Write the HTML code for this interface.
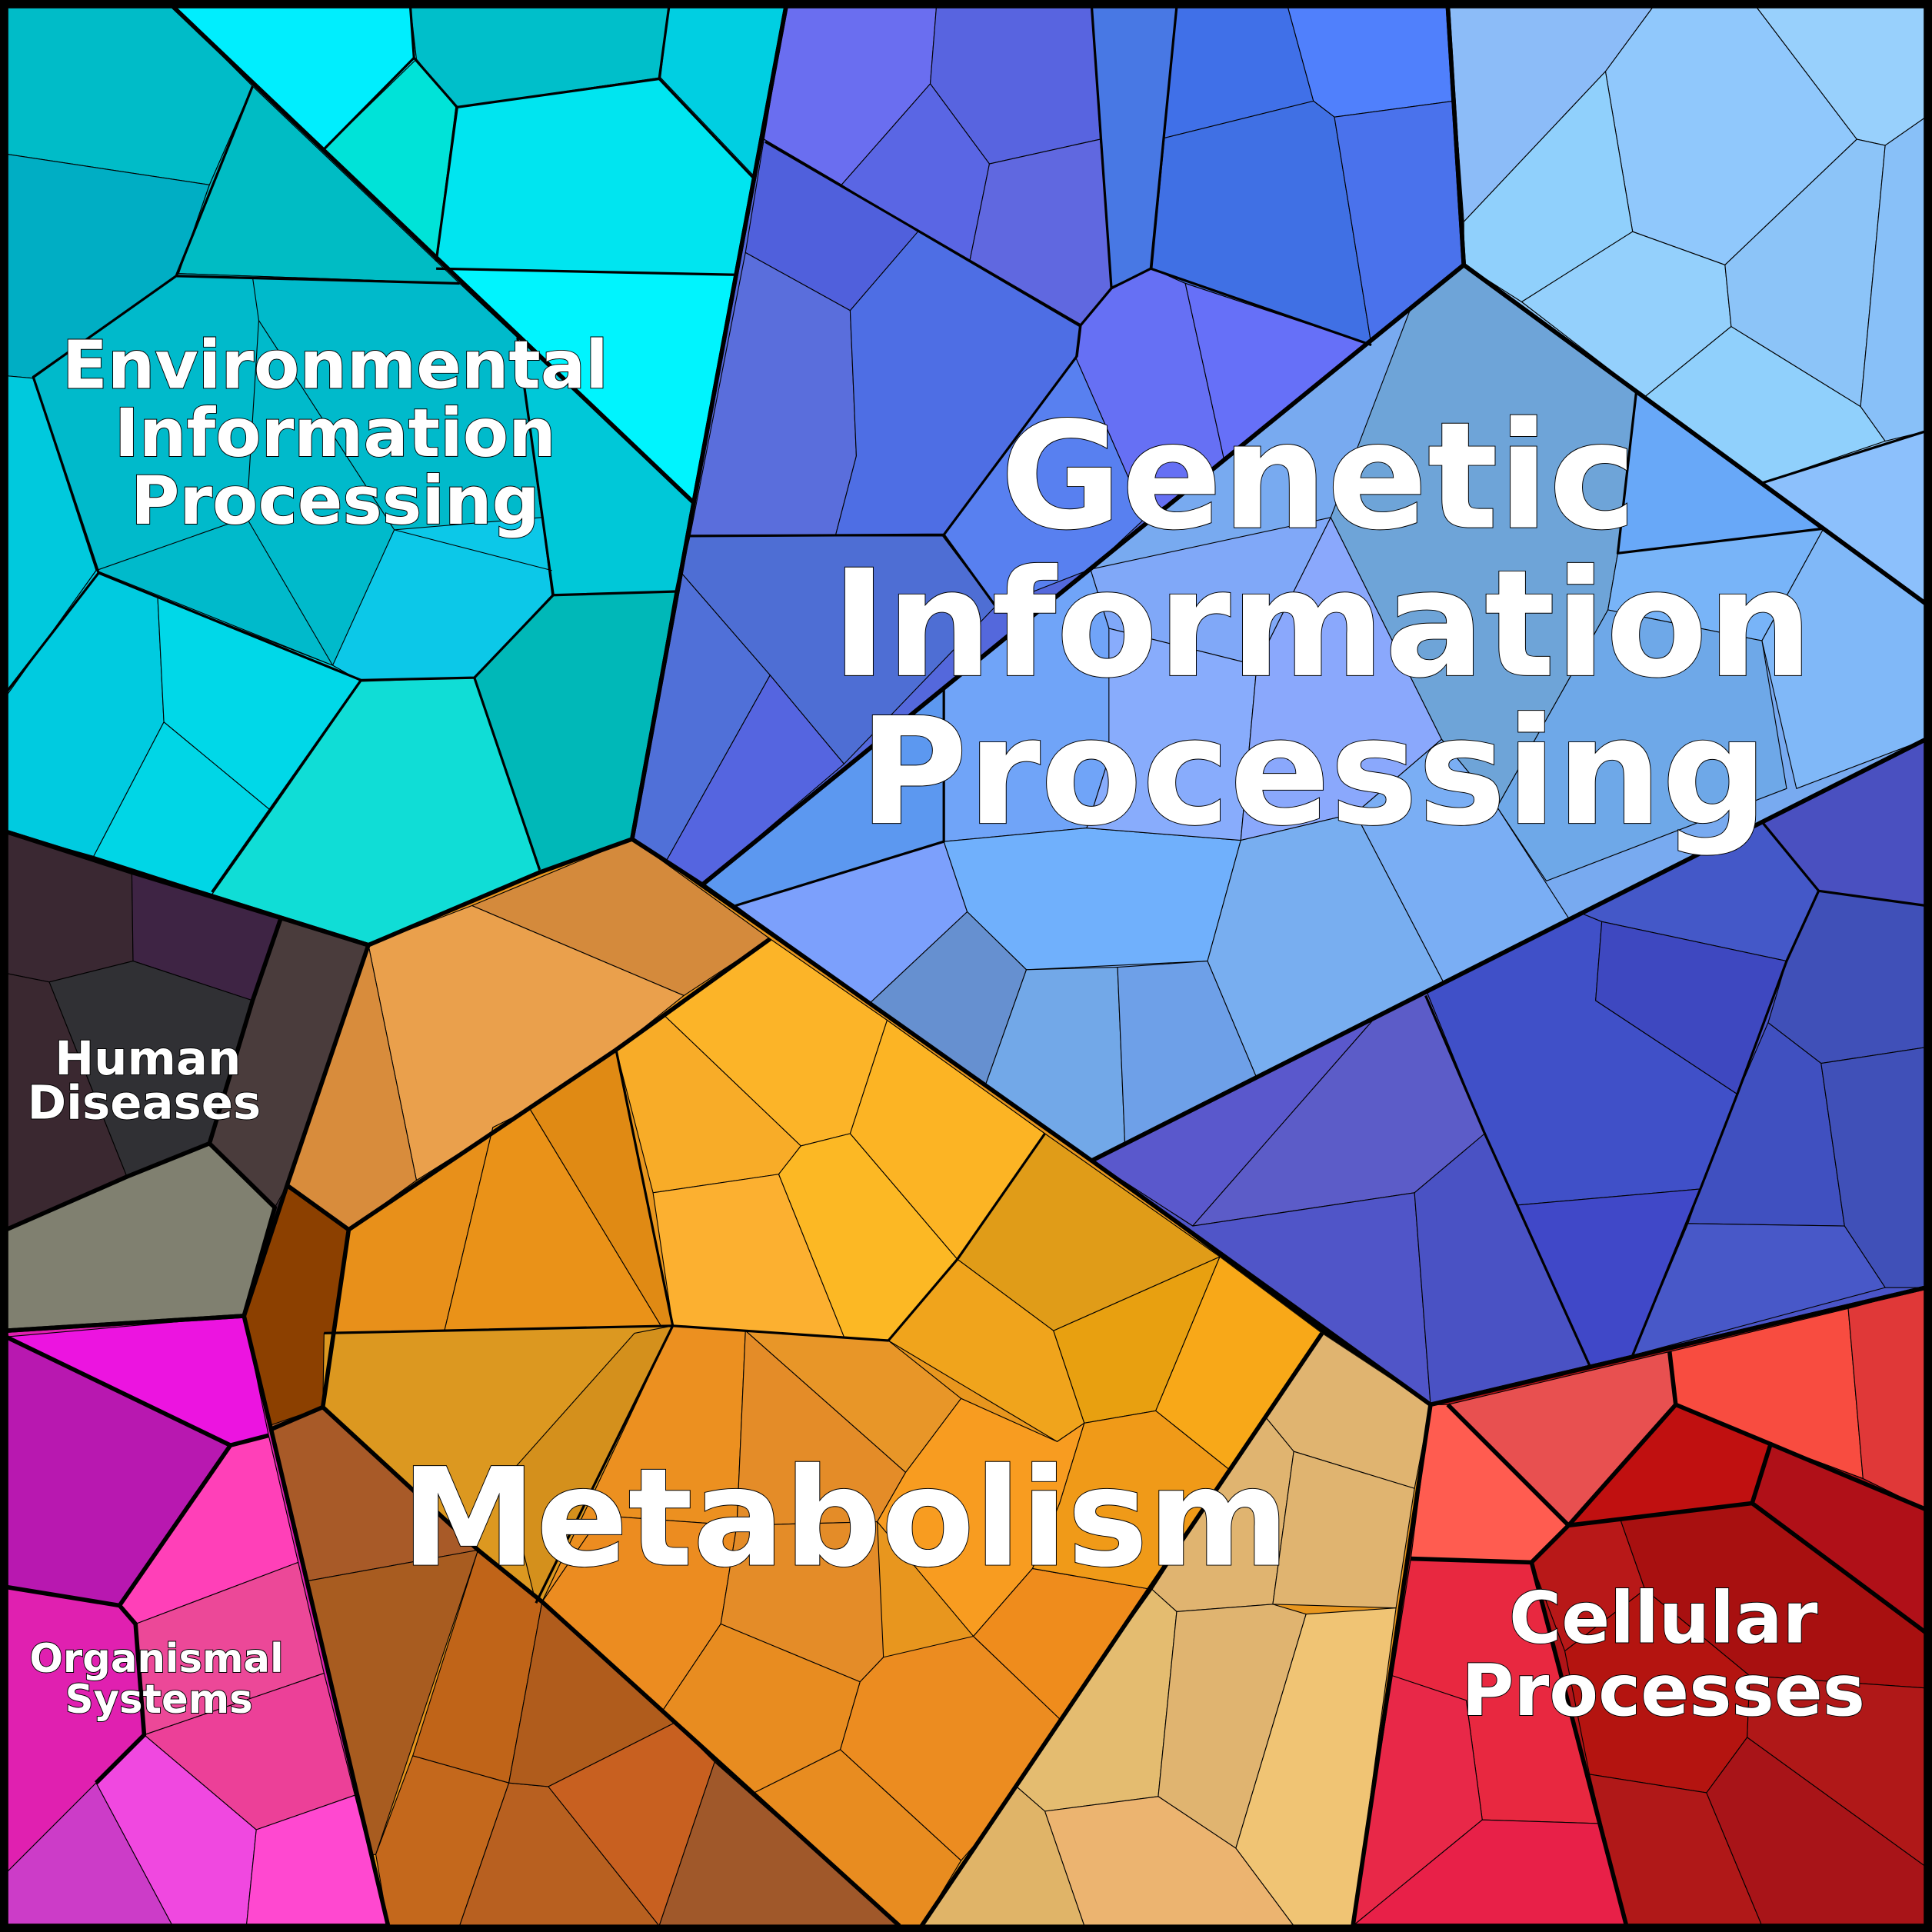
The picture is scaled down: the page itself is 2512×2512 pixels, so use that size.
<!DOCTYPE html>
<html><head><meta charset="utf-8"><style>
html,body{margin:0;padding:0;background:#000}
svg{display:block}
text{font-family:"DejaVu Sans","Liberation Sans",sans-serif;font-weight:bold;fill:#fff;stroke:#000;stroke-width:1.2;paint-order:stroke;text-anchor:middle}
</style></head><body>
<svg width="2512" height="2512" viewBox="0 0 1568 1568" xmlns="http://www.w3.org/2000/svg">
<defs>
<clipPath id="cE"><polygon points="5,5 638,5 563,408 513,681 438,708 299,767 5,675"/></clipPath>
<clipPath id="cA"><polygon points="638,5 1175,5 1188,215 570,718 513,681 563,408"/></clipPath>
<clipPath id="cB"><polygon points="1175,5 1563,5 1563,490 1188,215"/></clipPath>
<clipPath id="cC"><polygon points="1188,215 1563,490 1563,600 886,942 570,718"/></clipPath>
<clipPath id="cD"><polygon points="1563,600 1563,1045 1161,1140 886,942"/></clipPath>
<clipPath id="cM"><polygon points="513,681 886,942 1073,1082 1161,1140 1098,1563 315,1563 220,1160 198,1068 233,962 299,767 438,708"/></clipPath>
<clipPath id="cH"><polygon points="5,675 299,767 233,962 198,1068 5,1080"/></clipPath>
<clipPath id="cO"><polygon points="5,1080 198,1068 220,1160 315,1563 5,1563"/></clipPath>
<clipPath id="cP"><polygon points="1161,1140 1563,1045 1563,1563 1098,1563"/></clipPath>
</defs>
<rect x="0" y="0" width="1568" height="1568" fill="#000"/>
<g stroke="none">
<polygon fill="#00c2d4" points="5,5 638,5 563,408 513,681 438,708 299,767 5,675"/>
<polygon fill="#5468dc" points="638,5 1175,5 1188,215 570,718 513,681 563,408"/>
<polygon fill="#90c8f8" points="1175,5 1563,5 1563,490 1188,215"/>
<polygon fill="#78aaf0" points="1188,215 1563,490 1563,600 886,942 570,718"/>
<polygon fill="#4a55c8" points="1563,600 1563,1045 1161,1140 886,942"/>
<polygon fill="#e8961e" points="513,681 886,942 1073,1082 1161,1140 1098,1563 315,1563 220,1160 198,1068 233,962 299,767 438,708"/>
<polygon fill="#3a2c35" points="5,675 299,767 233,962 198,1068 5,1080"/>
<polygon fill="#e020b0" points="5,1080 198,1068 220,1160 315,1563 5,1563"/>
<polygon fill="#b01418" points="1161,1140 1563,1045 1563,1563 1098,1563"/>
</g>
<g stroke="#000" stroke-width="0.7" stroke-linejoin="round">
<g clip-path="url(#cE)">
<polygon fill="#00bcc8" points="5,5 140,5 205,70 170,150 5,125"/>
<polygon fill="#00aec4" points="5,125 170,150 145,222 27,307 5,305"/>
<polygon fill="#00eefe" points="140,5 333,5 338,48 262,122"/>
<polygon fill="#00e3d8" points="262,122 338,48 370,87 354,210"/>
<polygon fill="#00bfca" points="333,5 543,5 536,63 370,87 338,48"/>
<polygon fill="#00cfe2" points="543,5 638,5 612,143 536,63"/>
<polygon fill="#00e5f0" points="370,87 536,63 612,143 597,223 354,218"/>
<polygon fill="#00f4fe" points="354,218 597,223 563,408 373,230"/>
<polygon fill="#00bcc4" points="205,70 373,230 145,222 170,150"/>
<polygon fill="#00bacb" points="27,307 145,222 373,230 563,408 548,480 448,483 385,550 293,553 270,540 78,463"/>
<polygon fill="#00c8d8" points="420,274 563,408 548,480 448,483"/>
<polygon fill="#0cc8e8" points="270,540 293,553 385,550 448,483 440,420 320,430"/>
<polygon fill="#00c9dd" points="5,305 27,307 78,463 5,565"/>
<polygon fill="#00cbe0" points="5,565 78,463 128,485 133,586 76,695 5,675"/>
<polygon fill="#00d8e8" points="128,485 270,540 293,553 220,658 133,586"/>
<polygon fill="#00d6e6" points="133,586 220,658 172,726 76,695"/>
<polygon fill="#10ddd6" points="293,553 385,550 438,708 299,767 172,726 220,658"/>
<polygon fill="#00b8b8" points="385,550 448,483 548,480 513,681 438,708"/>
<polyline fill="none" points="78,463 200,420 270,540"/>
<polyline fill="none" points="200,420 210,260 205,225"/>
<polyline fill="none" points="210,260 320,430 448,463"/>
</g>
<g clip-path="url(#cA)">
<polygon fill="#6a6ef0" points="638,5 760,5 755,68 683,150 620,113"/>
<polygon fill="#5864e0" points="760,5 886,5 893,113 803,133 755,68"/>
<polygon fill="#5060dc" points="620,113 683,150 745,188 690,252 605,205"/>
<polygon fill="#5a66e4" points="683,150 755,68 803,133 787,212 745,188"/>
<polygon fill="#6068e0" points="803,133 893,113 902,233 876,265 787,212"/>
<polygon fill="#4878e4" points="886,5 955,5 945,112 935,218 902,233 893,113"/>
<polygon fill="#4070e8" points="955,5 1045,5 1066,82 945,112"/>
<polygon fill="#5080fc" points="1045,5 1175,5 1180,82 1083,95 1066,82"/>
<polygon fill="#4070e4" points="945,112 1066,82 1083,95 1113,280 962,230 935,218"/>
<polygon fill="#4a72ec" points="1083,95 1180,82 1188,215 1113,280"/>
<polygon fill="#6670f4" points="935,218 962,230 995,380 930,420 873,290 876,265 902,233"/>
<polygon fill="#6670f8" points="962,230 1113,280 1188,215 995,380"/>
<polygon fill="#5a6edc" points="605,205 690,252 695,370 678,435 560,435"/>
<polygon fill="#4e6ee4" points="690,252 745,188 876,265 873,290 765,435 678,435 695,370"/>
<polygon fill="#5880f0" points="873,290 930,420 885,462 808,492 765,435"/>
<polygon fill="#4e6ed4" points="560,435 765,435 808,492 685,620 625,548 553,465"/>
<polygon fill="#5070d8" points="553,465 625,548 540,700 513,681"/>
<polygon fill="#5565e0" points="625,548 685,620 570,718 540,700"/>
</g>
<g clip-path="url(#cB)">
<polygon fill="#8cbcf8" points="1175,5 1342,5 1303,58 1188,180"/>
<polygon fill="#90c8fc" points="1342,5 1425,5 1507,113 1400,215 1325,188 1303,58"/>
<polygon fill="#98d0fc" points="1425,5 1563,5 1563,95 1530,118 1507,113"/>
<polygon fill="#90d0fc" points="1188,180 1303,58 1325,188 1235,245 1188,215"/>
<polygon fill="#94d0fc" points="1325,188 1400,215 1405,265 1335,322 1235,245"/>
<polygon fill="#8cc4f8" points="1400,215 1507,113 1530,118 1510,330 1405,265"/>
<polygon fill="#88c0f8" points="1530,118 1563,95 1563,350 1530,358 1510,330"/>
<polygon fill="#90d0fc" points="1335,322 1405,265 1510,330 1530,358 1430,392"/>
<polygon fill="#8cc0fc" points="1430,392 1563,350 1563,490"/>
</g>
<g clip-path="url(#cC)">
<polygon fill="#6ea4d8" points="1188,215 1328,318 1313,449 1305,495 1215,655 1170,600 1080,420 1145,250"/>
<polygon fill="#68a8f8" points="1328,318 1480,429 1313,449"/>
<polygon fill="#78b4f8" points="1313,449 1480,429 1430,520 1305,495"/>
<polygon fill="#80b8f8" points="1480,429 1563,490 1563,600 1458,640 1430,520"/>
<polygon fill="#6ea8e8" points="1305,495 1430,520 1450,640 1255,715 1215,655"/>
<polygon fill="#80a8f8" points="885,462 1080,420 1020,540 900,510"/>
<polygon fill="#70a4f8" points="766,559 885,462 900,510 925,545 900,615 882,672 766,683"/>
<polygon fill="#5c98f0" points="570,718 766,559 766,683 597,735"/>
<polygon fill="#7ca0fc" points="597,735 766,683 785,740 705,815"/>
<polygon fill="#70b0fc" points="766,683 882,672 1007,682 980,780 833,787 785,740"/>
<polygon fill="#88acfc" points="900,510 1020,540 1007,682 882,672 900,615"/>
<polygon fill="#8aa8fc" points="1020,540 1080,420 1170,600 1100,660 1007,682"/>
<polygon fill="#78aef0" points="1007,682 1100,660 1173,800 1100,836 1020,875 980,780"/>
<polygon fill="#7aaef4" points="1100,660 1170,600 1215,655 1273,745 1173,800"/>
<polygon fill="#6690d0" points="705,815 785,740 833,787 800,880"/>
<polygon fill="#72a8e8" points="833,787 907,785 913,930 886,942 800,880"/>
<polygon fill="#6ea0e8" points="907,785 980,780 1020,875 913,930"/>
</g>
<g clip-path="url(#cD)">
<polygon fill="#5a58cc" points="886,942 1000,860 1130,810 968,995"/>
<polygon fill="#5c5cc8" points="1130,810 1158,805 1205,920 1148,968 968,995"/>
<polygon fill="#5055c8" points="886,942 968,995 1148,968 1161,1140"/>
<polygon fill="#4a52c4" points="1148,968 1205,920 1290,1108 1161,1140"/>
<polygon fill="#4050c8" points="1158,805 1283,741 1300,748 1295,812 1410,888 1380,965 1232,978 1205,920"/>
<polygon fill="#4048c8" points="1232,978 1380,965 1325,1100 1290,1108"/>
<polygon fill="#4458c8" points="1283,741 1430,667 1476,723 1450,780 1300,748"/>
<polygon fill="#4a50c0" points="1430,667 1563,600 1563,735 1476,723"/>
<polygon fill="#3e48c0" points="1295,812 1300,748 1450,780 1410,888"/>
<polygon fill="#4050b8" points="1476,723 1563,735 1563,850 1478,863 1435,830 1450,780"/>
<polygon fill="#4050c0" points="1410,888 1435,830 1478,863 1497,995 1370,993 1380,965"/>
<polygon fill="#4050b8" points="1478,863 1563,850 1563,1045 1530,1045 1497,995"/>
<polygon fill="#4858c8" points="1370,993 1497,995 1530,1045 1325,1100"/>
</g>
<g clip-path="url(#cM)">
<polygon fill="#d48a3c" points="383,735 513,681 625,762 555,808"/>
<polygon fill="#eaa04c" points="299,767 383,735 555,808 500,852 430,900 338,958"/>
<polygon fill="#d88c3c" points="299,767 338,958 283,998 233,962"/>
<polygon fill="#8c4000" points="233,962 283,998 262,1142 220,1160 198,1068"/>
<polygon fill="#e8901a" points="283,998 338,958 430,900 400,915 360,1083 270,1083"/>
<polygon fill="#e08a14" points="430,900 500,852 546,1076 540,1082"/>
<polygon fill="#ea9218" points="400,915 430,900 540,1082 360,1083"/>
<polygon fill="#f8ac28" points="500,852 538,823 650,930 632,953 530,968"/>
<polygon fill="#fcb428" points="538,823 625,762 720,828 690,920 650,930"/>
<polygon fill="#fcb030" points="530,968 632,953 685,1085 546,1076"/>
<polygon fill="#fcb824" points="632,953 650,930 690,920 777,1022 721,1088 685,1085"/>
<polygon fill="#fcb424" points="690,920 720,828 848,920 777,1022"/>
<polygon fill="#e09c18" points="848,920 990,1020 855,1080 777,1022"/>
<polygon fill="#f0a41c" points="777,1022 855,1080 880,1155 858,1170 721,1088"/>
<polygon fill="#e8a010" points="855,1080 990,1020 938,1145 880,1155"/>
<polygon fill="#f8a818" points="990,1020 1073,1082 998,1193 938,1145"/>
<polygon fill="#dc9820" points="263,1082 546,1076 440,1300 388,1258 262,1142"/>
<polygon fill="#d4901c" points="515,1082 546,1076 435,1301 410,1200"/>
<polygon fill="#a85a28" points="262,1142 388,1258 250,1283 210,1160"/>
<polygon fill="#a85c20" points="250,1283 388,1258 305,1505 280,1510"/>
<polygon fill="#c06418" points="388,1258 440,1300 413,1447 335,1425"/>
<polygon fill="#c4681c" points="335,1425 413,1447 373,1563 315,1563 305,1505"/>
<polygon fill="#b86020" points="413,1447 445,1450 535,1563 373,1563"/>
<polygon fill="#b05c1c" points="440,1300 548,1398 445,1450 413,1447"/>
<polygon fill="#c86020" points="445,1450 548,1398 580,1430 535,1563"/>
<polygon fill="#a0582a" points="580,1430 730,1563 535,1563"/>
<polygon fill="#ec9020" points="546,1076 605,1080 598,1238 488,1230 440,1300"/>
<polygon fill="#e89628" points="605,1080 721,1088 780,1135 735,1195"/>
<polygon fill="#e48c28" points="605,1080 735,1195 712,1235 598,1238"/>
<polygon fill="#f89c20" points="780,1135 858,1170 880,1155 860,1220 838,1273 790,1328 712,1235 735,1195"/>
<polygon fill="#ec8c20" points="440,1300 488,1230 598,1238 585,1318 538,1388"/>
<polygon fill="#e48c28" points="585,1318 598,1238 712,1235 717,1345 698,1365"/>
<polygon fill="#e88c20" points="538,1388 585,1318 698,1365 682,1420 612,1455"/>
<polygon fill="#ec8c20" points="717,1345 790,1328 860,1395 832,1450 780,1510 682,1420 698,1365"/>
<polygon fill="#ef8c1c" points="790,1328 838,1273 935,1290 860,1395"/>
<polygon fill="#f09a18" points="880,1155 938,1145 998,1193 935,1290 838,1273 860,1220"/>
<polygon fill="#e88c20" points="580,1430 612,1455 682,1420 780,1510 748,1563 730,1563"/>
<polygon fill="#e0b470" points="1073,1082 1161,1140 1148,1208 1050,1178 1027,1150"/>
<polygon fill="#e0b470" points="998,1193 1027,1150 1050,1178 1033,1302 955,1308 935,1290"/>
<polygon fill="#e0b470" points="1050,1178 1148,1208 1133,1305 1033,1302"/>
<polygon fill="#e4bc70" points="935,1290 955,1308 940,1458 848,1470 825,1450 860,1395"/>
<polygon fill="#e0b470" points="955,1308 1033,1302 1060,1310 1003,1500 940,1458"/>
<polygon fill="#f0c474" points="1060,1310 1133,1305 1098,1563 1050,1563 1003,1500"/>
<polygon fill="#ecb470" points="848,1470 940,1458 1003,1500 1050,1563 880,1563"/>
<polygon fill="#e0b468" points="825,1450 848,1470 880,1563 748,1563"/>
</g>
<g clip-path="url(#cH)">
<polygon fill="#3a2832" points="5,675 107,708 108,780 40,797 5,790"/>
<polygon fill="#3e2444" points="107,708 228,745 205,812 108,780"/>
<polygon fill="#4a3c3c" points="228,745 299,767 233,962 223,980 170,928 205,812"/>
<polygon fill="#3a2830" points="5,790 40,797 103,955 5,998"/>
<polygon fill="#303034" points="40,797 108,780 205,812 170,928 103,955"/>
<polygon fill="#808070" points="5,998 103,955 170,928 223,980 198,1068 5,1080"/>
</g>
<g clip-path="url(#cO)">
<polygon fill="#ec14e0" points="5,1085 198,1068 218,1165 187,1173"/>
<polygon fill="#b818b0" points="5,1085 187,1173 97,1303 5,1288"/>
<polygon fill="#ff40b8" points="187,1173 218,1165 242,1268 110,1318 97,1303"/>
<polygon fill="#ec4898" points="110,1318 242,1268 263,1358 117,1408"/>
<polygon fill="#e020b0" points="5,1288 97,1303 110,1318 117,1408 78,1447 5,1520"/>
<polygon fill="#ec4098" points="117,1408 263,1358 288,1457 208,1485"/>
<polygon fill="#f048e0" points="78,1447 117,1408 208,1485 200,1563 140,1563"/>
<polygon fill="#ff48d0" points="208,1485 288,1457 315,1563 200,1563"/>
<polygon fill="#cc3cc8" points="5,1520 78,1447 140,1563 5,1563"/>
</g>
<g clip-path="url(#cP)">
<polygon fill="#ff5c50" points="1161,1140 1175,1140 1273,1238 1243,1268 1145,1265"/>
<polygon fill="#e85050" points="1175,1140 1355,1097 1360,1140 1273,1238"/>
<polygon fill="#f84c40" points="1355,1097 1500,1062 1512,1200 1437,1172 1360,1140"/>
<polygon fill="#e03838" points="1500,1062 1563,1045 1563,1225 1512,1200"/>
<polygon fill="#c01010" points="1360,1140 1437,1172 1422,1220 1273,1238"/>
<polygon fill="#b01018" points="1437,1172 1512,1200 1563,1225 1563,1325 1422,1220"/>
<polygon fill="#e82840" points="1145,1265 1243,1268 1300,1480 1203,1477 1190,1380 1130,1360"/>
<polygon fill="#e82848" points="1130,1360 1190,1380 1203,1477 1098,1563"/>
<polygon fill="#e82048" points="1203,1477 1300,1480 1320,1563 1098,1563"/>
<polygon fill="#b81818" points="1243,1268 1273,1238 1315,1233 1335,1290 1270,1340"/>
<polygon fill="#a81010" points="1315,1233 1422,1220 1563,1325 1563,1370 1420,1360 1335,1290"/>
<polygon fill="#b41410" points="1270,1340 1335,1290 1420,1360 1418,1410 1385,1455 1290,1440"/>
<polygon fill="#b01818" points="1290,1440 1385,1455 1430,1563 1320,1563"/>
<polygon fill="#a81418" points="1385,1455 1418,1410 1563,1515 1563,1563 1430,1563"/>
<polygon fill="#b01818" points="1418,1410 1420,1360 1563,1370 1563,1515"/>
</g>
</g>
<g fill="none" stroke="#000" stroke-width="2" stroke-linejoin="round">
<polyline points="205,70 143,224 27,306 80,465 293,552 385,550 449,483 549,480"/>
<polyline points="143,224 373,230"/>
<polyline points="449,483 420,274"/>
<polyline points="80,465 5,562"/>
<polyline points="293,552 172,724"/>
<polyline points="385,550 438,706"/>
<polyline points="333,5 336,47 371,87 354,212"/>
<polyline points="336,47 262,122"/>
<polyline points="371,87 535,64 543,5"/>
<polyline points="535,64 611,144"/>
<polyline points="354,218 597,223"/>
<polyline points="621,115 877,264"/>
<polyline points="886,5 902,234 877,264 874,289 766,434 560,435"/>
<polyline points="955,5 934,218 1113,280"/>
<polyline points="934,218 902,234"/>
<polyline points="766,434 808,492"/>
<polyline points="766,559 766,683 597,735"/>
<polyline points="1328,318 1313,449 1480,429"/>
<polyline points="1430,392 1563,350"/>
<polyline points="1430,667 1476,723 1563,735"/>
<polyline points="1476,723 1450,780 1410,888 1380,965 1325,1100"/>
<polyline points="1157,808 1205,920 1290,1108"/>
<polyline points="500,852 546,1076 721,1088 777,1022 848,920"/>
<polyline points="263,1082 546,1076 435,1301"/>
</g>
<g fill="none" stroke="#000" stroke-width="3.5" stroke-linejoin="round">
<polygon points="5,5 638,5 563,408 513,681 438,708 299,767 5,675"/>
<polygon points="638,5 1175,5 1188,215 570,718 513,681 563,408"/>
<polygon points="1175,5 1563,5 1563,490 1188,215"/>
<polygon points="1188,215 1563,490 1563,600 886,942 570,718"/>
<polygon points="1563,600 1563,1045 1161,1140 886,942"/>
<polygon points="5,675 299,767 233,962 198,1068 5,1080"/>
<polygon points="5,1080 198,1068 220,1160 315,1563 5,1563"/>
<polygon points="1161,1140 1563,1045 1563,1563 1098,1563"/>
<polyline points="5,675 107,708 228,745 299,767"/>
<polyline points="5,998 103,955 170,928 223,980 198,1068"/>
<polyline points="228,745 205,812 170,928"/>
<polyline points="233,962 283,998 262,1142 220,1160"/>
<polyline points="283,998 500,852 625,762"/>
<polyline points="1073,1082 748,1563"/>
<polyline points="262,1142 388,1258 440,1300 548,1398 730,1563"/>
<polyline points="5,1085 187,1173 97,1303"/>
<polyline points="5,1288 97,1303 110,1318 117,1408 78,1447"/>
<polyline points="187,1173 218,1165"/>
<polyline points="1175,1140 1273,1238 1243,1268 1145,1265"/>
<polyline points="1243,1268 1320,1563"/>
<polyline points="1273,1238 1360,1140 1437,1172 1422,1220 1563,1325"/>
<polyline points="1273,1238 1422,1220"/>
<polyline points="1360,1140 1355,1097"/>
<polyline points="1437,1172 1563,1225"/>
<polyline points="1145,250 1188,215"/>
<polyline points="140,5 563,408"/>
<polygon points="3,3 1565,3 1565,1565 3,1565" stroke-width="6"/>
</g>
<text font-size="54" x="272" y="315">Environmental</text>
<text font-size="54" x="272" y="370">Information</text>
<text font-size="54" x="272" y="425">Processing</text>
<text font-size="120" x="1070" y="428" stroke-width="1.5">Genetic</text>
<text font-size="120" x="1073" y="548" stroke-width="1.5">Information</text>
<text font-size="120" x="1066" y="668" stroke-width="1.5">Processing</text>
<text font-size="110" x="686" y="1270" stroke-width="1.5">Metabolism</text>
<text font-size="38" x="120" y="872">Human</text>
<text font-size="38" x="117" y="908">Diseases</text>
<text font-size="32" x="127" y="1357">Organismal</text>
<text font-size="32" x="129" y="1390">Systems</text>
<text font-size="58" x="1350" y="1333">Cellular</text>
<text font-size="58" x="1350" y="1392">Processes</text>
</svg>
</body></html>
